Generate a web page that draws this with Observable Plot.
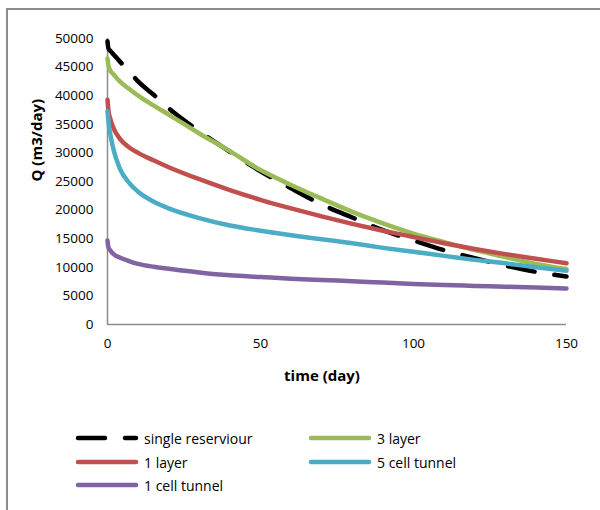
<!DOCTYPE html>
<html>
<head>
<meta charset="utf-8">
<script src="https://cdn.jsdelivr.net/npm/d3@7"></script>
<script src="https://cdn.jsdelivr.net/npm/@observablehq/plot@0.6"></script>
<style>
  html, body { margin: 0; padding: 0; background: #fff; }
  #wrap { position: relative; width: 600px; height: 510px; overflow: hidden; font-family: "Open Sans", sans-serif; }
  #frame { position: absolute; left: 6px; top: 8px; width: 700px; height: 600px; border-top: 2px solid #8c8c8c; border-left: 2px solid #8c8c8c; box-sizing: border-box; }
  #chart { position: absolute; left: 0; top: 0; }
  .leg { position: absolute; display: flex; align-items: center; font-size: 14px; color: #000; white-space: nowrap; }
  .leg svg { margin-right: 5px; }
</style>
</head>
<body>
<div id="wrap">
  <div id="frame"></div>
  <div id="chart"></div>
</div>
<script>
// time (day)
const time = [0, 0.3, 1, 2, 4, 7, 10, 15, 20, 30, 40, 50, 60, 70, 80, 90, 100, 110, 120, 130, 140, 150];
// Q (m3/day) per series
const singleReservoir = [49500, 48300, 47800, 47200, 46000, 44300, 42500, 40200, 37800, 33800, 30200, 26800, 23800, 21000, 18700, 16500, 14700, 13000, 11600, 10300, 9200, 8400];
const threeLayer      = [46500, 45300, 44300, 43700, 42500, 41200, 40000, 38300, 36700, 33400, 30300, 27000, 24400, 22000, 19700, 17700, 15900, 14400, 13000, 11800, 10600, 9700];
const oneLayer        = [39300, 37400, 35800, 34300, 32500, 31000, 30000, 28700, 27500, 25400, 23500, 21800, 20300, 18900, 17600, 16400, 15300, 14200, 13200, 12300, 11500, 10700];
const fiveCellTunnel  = [37300, 35500, 33000, 30500, 27300, 24800, 23200, 21500, 20300, 18600, 17300, 16400, 15600, 14900, 14200, 13400, 12700, 12000, 11300, 10700, 10000, 9400];
const oneCellTunnel   = [14700, 13500, 12900, 12300, 11700, 11100, 10600, 10100, 9750, 9100, 8600, 8300, 8000, 7800, 7550, 7350, 7100, 6900, 6750, 6600, 6450, 6300];

const seriesNames = ["single reserviour", "3 layer", "1 layer", "5 cell tunnel", "1 cell tunnel"];
const seriesValues = [singleReservoir, threeLayer, oneLayer, fiveCellTunnel, oneCellTunnel];
const seriesColors = ["#000000", "#9BBB59", "#C0504D", "#4BACC6", "#8064A2"];
const xTicks = [0, 50, 100, 150];
const yTicks = [0, 5000, 10000, 15000, 20000, 25000, 30000, 35000, 40000, 45000, 50000];

const tables = seriesValues.map((vals, i) => time.map((t, j) => ({t, q: vals[j], series: seriesNames[i]})));

const lineMarks = tables.map((tbl, i) => Plot.line(tbl, {
  x: "t", y: "q", stroke: seriesColors[i], strokeWidth: 4.5,
  curve: "monotone-x", strokeLinecap: "round", strokeLinejoin: "round",
  strokeDasharray: i === 0 ? "27,20" : null
}));

const chart = Plot.plot({
  width: 600, height: 400,
  marginLeft: 107, marginRight: 34, marginTop: 38, marginBottom: 76,
  style: { fontFamily: "'Open Sans', sans-serif", fontSize: "13.5px", background: "transparent", color: "#000" },
  x: { domain: [0, 150] },
  y: { domain: [0, 50000] },
  marks: [
    Plot.axisX({ ticks: xTicks, tickSize: 0, tickPadding: 14, label: null, tickFormat: d => String(d) }),
    Plot.axisY({ ticks: yTicks, tickSize: 0, tickPadding: 14, label: null, tickFormat: d => String(d) }),
    Plot.ruleY([0], { stroke: "#8c8c8c", strokeWidth: 1.5 }),
    Plot.ruleX([0], { stroke: "#8c8c8c", strokeWidth: 1.5 }),
    ...lineMarks,
    Plot.text(["time (day)"], { frameAnchor: "bottom", dy: 56, dx: -15, fontWeight: "bold", fontSize: 15 }),
    Plot.text(["Q (m3/day)"], { frameAnchor: "left", dx: -70, rotate: -90, fontWeight: "bold", fontSize: 15 })
  ]
});
document.getElementById("chart").appendChild(chart);

// legend
const legendPos = [[75, 438], [308, 438], [75, 462], [308, 462], [75, 485]];
const wrap = document.getElementById("wrap");
seriesNames.forEach((name, i) => {
  const d = document.createElement("div");
  d.className = "leg";
  d.style.left = legendPos[i][0] + "px";
  d.style.top = (legendPos[i][1] - 11) + "px";
  d.style.height = "22px";
  const dash = i === 0 ? ' stroke-dasharray="27,20"' : '';
  d.innerHTML = `<svg width="64" height="10"><line x1="3" y1="5" x2="61" y2="5" stroke="${seriesColors[i]}" stroke-width="4.5" stroke-linecap="round"${dash}/></svg><span>${name}</span>`;
  wrap.appendChild(d);
});
</script>
</body>
</html>
